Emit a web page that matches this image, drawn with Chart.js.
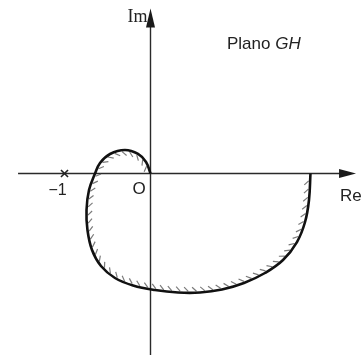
<!DOCTYPE html>
<html>
<head>
<meta charset="utf-8">
<script src="https://cdn.jsdelivr.net/npm/chart.js@4/dist/chart.umd.min.js"></script>
<style>
  html, body { margin: 0; padding: 0; background: #fff; }
  #wrap { width: 364px; height: 357px; }
</style>
</head>
<body>
<div id="wrap"><canvas id="c" width="364" height="357"></canvas></div>
<script>
// Polar (Nyquist) locus of GH(jw): real and imaginary parts
const curveRe = [0, -0.052, -0.145, -0.297, -0.471, -0.587, -0.645, -0.715, -0.744, -0.733, -0.68, -0.576, -0.413, -0.203, 0.052, 0.32, 0.576, 0.831, 1.087, 1.331, 1.541, 1.703, 1.797, 1.843, 1.86];
const curveIm = [0, 0.134, 0.227, 0.273, 0.227, 0.122, 0, -0.192, -0.424, -0.657, -0.89, -1.076, -1.215, -1.302, -1.355, -1.384, -1.384, -1.349, -1.273, -1.157, -1.006, -0.797, -0.564, -0.308, 0];

// Critical point -1 + j0
const criticalPoint = { re: -1, im: 0 };

// Extent of the drawn axes
const reAxisRange = [-1.54, 2.39];
const imAxisRange = [-2.11, 1.92];

// Text labels
const labels = {
  re: 'Re',
  im: 'Im',
  origin: 'O',
  minusOne: '\u22121',
  planeWord: 'Plano ',
  planeName: 'GH'
};

const curveData = curveRe.map((x, i) => ({ x: x, y: curveIm[i] }));

// Axes with arrowheads, hatching on the inner side of the locus, and text
const planePlugin = {
  id: 'planePlugin',
  beforeDatasetsDraw(chart) {
    const ctx = chart.ctx;
    const xs = chart.scales.x, ys = chart.scales.y;
    const ox = xs.getPixelForValue(0), oy = ys.getPixelForValue(0);
    const xl = xs.getPixelForValue(reAxisRange[0]), xr = xs.getPixelForValue(reAxisRange[1]);
    const yb = ys.getPixelForValue(imAxisRange[0]), yt = ys.getPixelForValue(imAxisRange[1]);
    ctx.save();
    ctx.strokeStyle = '#2a2a2a';
    ctx.fillStyle = '#1a1a1a';
    ctx.lineWidth = 1.4;
    ctx.beginPath();
    ctx.moveTo(xl, oy); ctx.lineTo(xr - 10, oy);
    ctx.moveTo(ox, yb); ctx.lineTo(ox, yt + 10);
    ctx.stroke();
    // arrowheads
    ctx.beginPath();
    ctx.moveTo(xr, oy); ctx.lineTo(xr - 17, oy - 4.5); ctx.lineTo(xr - 17, oy + 4.5); ctx.closePath();
    ctx.fill();
    ctx.beginPath();
    ctx.moveTo(ox, yt); ctx.lineTo(ox - 4.5, yt + 19); ctx.lineTo(ox + 4.5, yt + 19); ctx.closePath();
    ctx.fill();

    // hatching along the inside of the locus
    const meta = chart.getDatasetMeta(0);
    const pts = meta.data;
    const samples = [];
    for (let i = 0; i < pts.length - 1; i++) {
      const a = pts[i], b = pts[i + 1];
      const c1x = a.cp2x ?? a.x, c1y = a.cp2y ?? a.y, c2x = b.cp1x ?? b.x, c2y = b.cp1y ?? b.y;
      for (let t = 0; t < 1; t += 0.02) {
        const u = 1 - t;
        samples.push({
          x: u*u*u*a.x + 3*u*u*t*c1x + 3*u*t*t*c2x + t*t*t*b.x,
          y: u*u*u*a.y + 3*u*u*t*c1y + 3*u*t*t*c2y + t*t*t*b.y
        });
      }
    }
    samples.push({ x: pts[pts.length - 1].x, y: pts[pts.length - 1].y });
    ctx.strokeStyle = 'rgba(90,90,90,0.8)';
    ctx.lineWidth = 1.2;
    let acc = 0;
    const step = 8;
    ctx.beginPath();
    for (let i = 1; i < samples.length - 1; i++) {
      const p = samples[i - 1], q = samples[i];
      acc += Math.hypot(q.x - p.x, q.y - p.y);
      if (acc >= step) {
        acc = 0;
        const r = samples[i + 1];
        let dx = r.x - p.x, dy = r.y - p.y;
        const len = Math.hypot(dx, dy) || 1;
        dx /= len; dy /= len;
        // inward normal (locus runs counter-clockwise on screen)
        const nx = dy, ny = -dx;
        const hx = nx * 0.7 - dx * 0.7, hy = ny * 0.7 - dy * 0.7;
        ctx.moveTo(q.x + nx * 1.5, q.y + ny * 1.5);
        ctx.lineTo(q.x + nx * 1.5 + hx * 6, q.y + ny * 1.5 + hy * 6);
      }
    }
    ctx.stroke();

    // text
    ctx.fillStyle = '#222';
    ctx.textBaseline = 'alphabetic';
    ctx.font = '17px "Liberation Sans", Arial, sans-serif';
    ctx.textAlign = 'left';
    ctx.fillText(labels.re, xr - 16, oy + 27);
    ctx.fillText(labels.origin, ox - 18, oy + 20);
    ctx.font = '16px "Liberation Sans", Arial, sans-serif';
    const cx = xs.getPixelForValue(criticalPoint.re);
    ctx.textAlign = 'center';
    ctx.fillText(labels.minusOne, cx - 7, oy + 21);
    ctx.font = '18px "Liberation Serif", serif';
    ctx.textAlign = 'right';
    ctx.fillText(labels.im, ox - 3, yt + 14);
    ctx.textAlign = 'left';
    ctx.font = '17px "Liberation Sans", Arial, sans-serif';
    const px = 227, py = 49;
    ctx.fillText(labels.planeWord, px, py);
    const w = ctx.measureText(labels.planeWord).width;
    ctx.font = 'italic 17px "Liberation Sans", Arial, sans-serif';
    ctx.fillText(labels.planeName, px + w, py);
    ctx.restore();
  }
};

const ORIGIN_PX = { x: 150.5, y: 173.5 };
const UNIT_PX = 86;

new Chart(document.getElementById('c'), {
  type: 'scatter',
  data: {
    datasets: [
      {
        data: curveData,
        showLine: true,
        borderColor: '#111',
        borderWidth: 2.6,
        tension: 0.4,
        pointRadius: 0,
        fill: false
      },
      {
        data: [{ x: criticalPoint.re, y: criticalPoint.im }],
        pointStyle: 'crossRot',
        pointRadius: 5,
        borderColor: '#222',
        borderWidth: 1.6,
        showLine: false
      }
    ]
  },
  options: {
    responsive: false,
    animation: false,
    devicePixelRatio: 1,
    layout: { padding: 0, autoPadding: false },
    plugins: { legend: { display: false }, tooltip: { enabled: false } },
    scales: {
      x: { type: 'linear', display: false, min: -ORIGIN_PX.x / UNIT_PX, max: (364 - ORIGIN_PX.x) / UNIT_PX },
      y: { type: 'linear', display: false, max: ORIGIN_PX.y / UNIT_PX, min: (ORIGIN_PX.y - 357) / UNIT_PX }
    }
  },
  plugins: [planePlugin]
});
</script>
</body>
</html>
